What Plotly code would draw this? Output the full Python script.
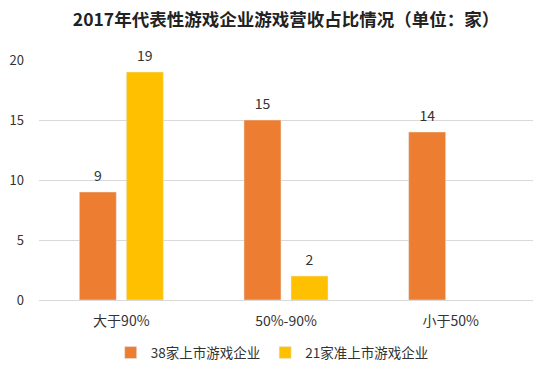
import plotly.graph_objects as go

categories = ["大于90%", "50%-90%", "小于50%"]
series1_name = "38家上市游戏企业"
series1 = [9, 15, 14]
series2_name = "21家准上市游戏企业"
series2 = [19, 2, None]
y_ticks = [0, 5, 10, 15, 20]

font_family = "Noto Sans CJK SC, Microsoft YaHei, sans-serif"
colors = ["#ED7D31", "#FFC000"]
GAP = 0.429

fig = go.Figure()
for name, vals, col, grp in [(series1_name, series1, colors[0], "a"),
                             (series2_name, series2, colors[1], "b")]:
    fig.add_trace(go.Bar(
        x=categories, y=vals, name=name, offsetgroup=grp,
        marker=dict(color=col), hoverinfo="skip",
    ))
for name, vals, grp in [(series1_name, series1, "a"), (series2_name, series2, "b")]:
    fig.add_trace(go.Scatter(
        x=categories, y=vals, mode="markers+text", offsetgroup=grp,
        text=[str(v) if v is not None else "" for v in vals],
        textposition="top center", textfont=dict(size=14, color="#333333"),
        marker=dict(size=11, opacity=0), showlegend=False, hoverinfo="skip",
        cliponaxis=False,
    ))

fig.update_layout(
    width=550, height=381,
    margin=dict(l=39, r=17, t=59.5, b=76),
    paper_bgcolor="white", plot_bgcolor="white",
    font=dict(family=font_family, size=13, color="#333333"),
    title=dict(text="<b>2017年代表性游戏企业游戏营收占比情况（单位：家）</b>",
               x=0.5, xref="paper", xanchor="center", y=0.9475, yanchor="middle",
               font=dict(size=17.5, color="#222222", family=font_family)),
    barmode="group", bargap=GAP, bargroupgap=0.213,
    scattermode="group", scattergap=GAP,
    showlegend=True,
    legend=dict(orientation="h", x=0.472, xanchor="center", y=-0.22, yanchor="middle",
                font=dict(size=13.5, color="#333333"), itemwidth=30),
    xaxis=dict(showline=True, linecolor="#D9D9D9", ticks="", tickfont=dict(size=14),
               ticklabelstandoff=8, automargin=False),
    yaxis=dict(range=[0, 20], tickvals=y_ticks, showgrid=True, gridcolor="#D9D9D9",
               zeroline=False, ticks="", tickfont=dict(size=13), ticklabelstandoff=14,
               automargin=False),
)

fig.write_html("out.html", config={"displayModeBar": False},
               post_script="document.body.style.margin='0';document.body.style.padding='0';")
